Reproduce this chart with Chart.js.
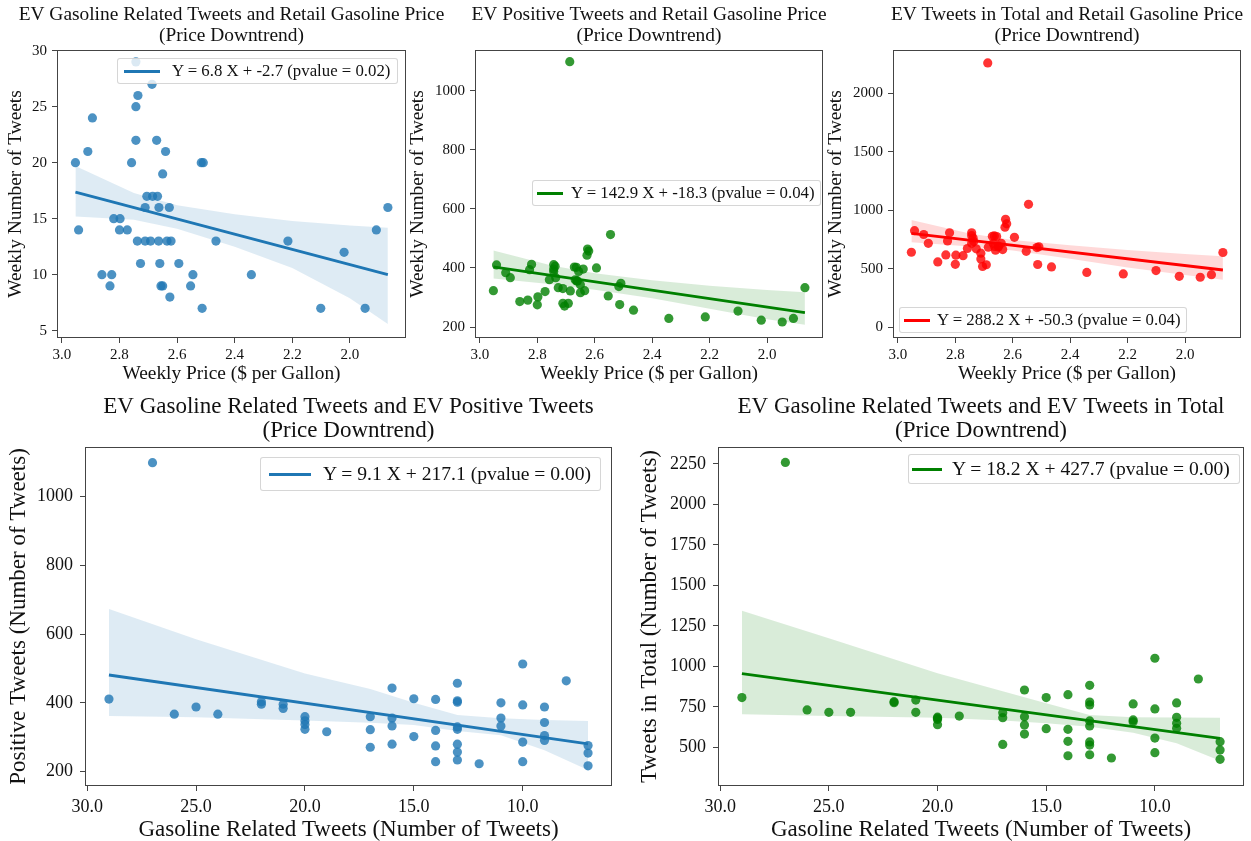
<!DOCTYPE html>
<html>
<head>
<meta charset="utf-8">
<title>EV tweets and retail gasoline price</title>
<script src="https://cdn.jsdelivr.net/npm/chart.js@4.4.1/dist/chart.umd.min.js"></script>
<style>
  html, body { margin: 0; padding: 0; background: #fff; }
  body { position: relative; width: 1251px; height: 841px; overflow: hidden;
         font-family: "Liberation Serif", "Times New Roman", serif; color: #111; }
  canvas { position: absolute; }
  .legend { position: absolute; box-sizing: border-box; display: flex; align-items: center; white-space: nowrap;
            background: rgba(255,255,255,0.8); border: 1px solid rgba(204,204,204,0.8); border-radius: 3px; }
  .legend .swatch { display: inline-block; height: 0; }
</style>
</head>
<body>
<script>
// one entry per week of the price downtrend
var weekPrice = [2.953, 2.942, 2.910, 2.894, 2.861, 2.833, 2.827, 2.820, 2.800, 2.798,
                 2.773, 2.758, 2.743, 2.743, 2.743, 2.738, 2.736, 2.727, 2.711, 2.711,
                 2.705, 2.692, 2.687, 2.685, 2.671, 2.668, 2.664, 2.663, 2.660, 2.656,
                 2.650, 2.650, 2.640, 2.635, 2.627, 2.625, 2.621, 2.594, 2.553, 2.545,
                 2.516, 2.513, 2.509, 2.465, 2.342, 2.215, 2.101, 2.020, 1.947, 1.908, 1.868];
var gasTweets = [20, 14, 21, 24, 10, 9, 10, 15, 14, 15,
                 14, 20, 29, 25, 22, 13, 26, 11, 16, 13,
                 17, 13, 27, 17, 22, 17, 13, 16, 11, 9,
                 9, 19, 21, 13, 16, 8, 13, 11, 9, 10,
                 20, 7, 20, 13, 10, 13, 7, 12, 7, 14, 16];
var positiveTweets = [323, 410, 384, 367, 286, 291, 394, 412, 275, 302,
                      320, 360, 411, 388, 396, 406, 367, 333, 280, 330,
                      271, 280, 1098, 322, 403, 360, 402, 356, 356, 388,
                      343, 316, 396, 323, 443, 464, 457, 400, 305, 513,
                      337, 276, 348, 257, 229, 234, 254, 223, 217, 229, 333];
var totalTweets = [640, 825, 792, 716, 557, 617, 737, 807, 537, 615,
                   611, 672, 807, 716, 782, 762, 731, 669, 582, 632,
                   518, 533, 2260, 683, 776, 714, 780, 689, 658, 774,
                   685, 693, 716, 663, 854, 922, 883, 768, 648, 1050,
                   680, 535, 686, 514, 467, 454, 483, 434, 426, 448, 638];

// regression results shown in the legends (one per panel)
var fitSlope = [6.8, 142.9, 288.2, 9.1, 18.2];
var fitIntercept = [-2.7, -18.3, -50.3, 217.1, 427.7];
var fitPvalue = [0.02, 0.04, 0.04, 0.00, 0.00];

// confidence bands
var bandPriceX = [2.953, 2.75, 2.6, 2.4, 2.2, 2.0, 1.868];
var bandGasUpper = [19.7, 17.3, 16.2, 15.4, 14.8, 14.4, 14.2];
var bandGasLower = [15.2, 14.9, 14.1, 12.5, 10.6, 7.9, 5.6];
var bandPosUpper = [459, 408, 382, 358, 340, 325, 318];
var bandPosLower = [364, 345, 326, 297, 262, 226, 208];
var bandTotalUpper = [915, 800, 745, 700, 660, 625, 605];
var bandTotalLower = [725, 690, 655, 585, 510, 445, 405];
var bandTweetX = [29, 25, 20, 17, 15, 13, 11, 9, 7];
var bandPosByGasUpper = [673, 585, 485, 440, 400, 365, 355, 350, 347];
var bandPosByGasLower = [362, 358, 349, 342, 336, 318, 306, 262, 205];
var bandTotalByGasUpper = [1343, 1174, 957, 846, 772, 700, 685, 684, 683];
var bandTotalByGasLower = [704, 694, 683, 665, 648, 627, 590, 525, 417];

// tick labels
var priceTicks = [3.0, 2.8, 2.6, 2.4, 2.2, 2.0];
var tweetTicks = [30, 25, 20, 15, 10];
var gasTicksY = [5, 10, 15, 20, 25, 30];
var posTicksY = [200, 400, 600, 800, 1000];
var totalTicksY = [0, 500, 1000, 1500, 2000];
var totalTicksY2 = [500, 750, 1000, 1250, 1500, 1750, 2000, 2250];

var SERIF = '"Liberation Serif", "Times New Roman", serif';
var INK = '#111';
var EDGE = '#444';
var BLUE = [31, 119, 180], GREEN = [0, 128, 0], RED = [255, 0, 0];

var small = { title: 19.4, titleLH: 21, titleY: 14.5, label: 19.4, tick: 15, padX: 3, padY: 5, legend: 16.8 };
var large = { title: 23, titleLH: 24.3, titleY: 15, label: 23, tick: 18, padX: 5, padY: 7, legend: 19.6 };

var panels = [
  { xs: weekPrice, ys: gasTweets, bx: bandPriceX, hi: bandGasUpper, lo: bandGasLower, color: BLUE, f: small,
    title: ['EV Gasoline Related Tweets and Retail Gasoline Price', '(Price Downtrend)'],
    xLabel: 'Weekly Price ($ per Gallon)', yLabel: 'Weekly Number of Tweets',
    xTicks: priceTicks, yTicks: gasTicksY, xMin: 1.805, xMax: 3.017, yMin: 4.35, yMax: 30.06, digits: 1,
    box: { left: 0, top: 0, w: 463, h: 390, yW: 57, xH: 52, padT: 50, padR: 57 },
    leg: { left: 117, top: 58, h: 26, padL: 6, padR: 7, swatch: 36, gap: 12, lw: 3 } },
  { xs: weekPrice, ys: positiveTweets, bx: bandPriceX, hi: bandPosUpper, lo: bandPosLower, color: GREEN, f: small,
    title: ['EV Positive Tweets and Retail Gasoline Price', '(Price Downtrend)'],
    xLabel: 'Weekly Price ($ per Gallon)', yLabel: 'Weekly Number of Tweets',
    xTicks: priceTicks, yTicks: posTicksY, xMin: 1.805, xMax: 3.017, yMin: 162.8, yMax: 1137.6, digits: 1,
    box: { left: 402, top: 0, w: 441, h: 390, yW: 73, xH: 52, padT: 50, padR: 20 },
    leg: { left: 532, top: 180, h: 26, padL: 4, padR: 5, swatch: 26, gap: 8, lw: 3 } },
  { xs: weekPrice, ys: totalTweets, bx: bandPriceX, hi: bandTotalUpper, lo: bandTotalLower, color: RED, f: small,
    title: ['EV Tweets in Total and Retail Gasoline Price', '(Price Downtrend)'],
    xLabel: 'Weekly Price ($ per Gallon)', yLabel: 'Weekly Number of Tweets',
    xTicks: priceTicks, yTicks: totalTicksY, xMin: 1.805, xMax: 3.017, yMin: -94, yMax: 2371, digits: 1,
    box: { left: 820, top: 0, w: 431, h: 390, yW: 73, xH: 52, padT: 50, padR: 10 },
    leg: { left: 899, top: 307, h: 26, padL: 4, padR: 5, swatch: 26, gap: 7, lw: 3 } },
  { xs: gasTweets, ys: positiveTweets, bx: bandTweetX, hi: bandPosByGasUpper, lo: bandPosByGasLower, color: BLUE, f: large,
    title: ['EV Gasoline Related Tweets and EV Positive Tweets', '(Price Downtrend)'],
    xLabel: 'Gasoline Related Tweets (Number of Tweets)', yLabel: 'Positive Tweets (Number of Tweets)',
    xTicks: tweetTicks, yTicks: posTicksY, xMin: 5.9, xMax: 30.1, yMin: 158.4, yMax: 1143.6, digits: 1,
    box: { left: 1, top: 392, w: 617, h: 456, yW: 84, xH: 62, padT: 55, padR: 6 },
    leg: { left: 260, top: 457, h: 34, padL: 8, padR: 9, swatch: 42, gap: 12, lw: 3.5 } },
  { xs: gasTweets, ys: totalTweets, bx: bandTweetX, hi: bandTotalByGasUpper, lo: bandTotalByGasLower, color: GREEN, f: large,
    title: ['EV Gasoline Related Tweets and EV Tweets in Total', '(Price Downtrend)'],
    xLabel: 'Gasoline Related Tweets (Number of Tweets)', yLabel: 'Tweets in Total (Number of Tweets)',
    xTicks: tweetTicks, yTicks: totalTicksY2, xMin: 5.9, xMax: 30.1, yMin: 261, yMax: 2355, digits: 1,
    box: { left: 632, top: 392, w: 619, h: 456, yW: 86, xH: 62, padT: 55, padR: 7 },
    leg: { left: 908, top: 454, h: 30, padL: 3, padR: 9, swatch: 30, gap: 10, lw: 3.5 } }
];

function rgba(c, a){ return 'rgba(' + c[0] + ',' + c[1] + ',' + c[2] + ',' + a + ')'; }

function pairUp(xs, ys){
  var pts = [];
  for(var i = 0; i < xs.length; i++) pts.push({ x: xs[i], y: ys[i] });
  return pts;
}

// regression line over the data range, from the legend equation
function fitLine(xs, k){
  var lo = Math.min.apply(null, xs), hi = Math.max.apply(null, xs);
  return [{ x: lo, y: fitSlope[k] * lo + fitIntercept[k] }, { x: hi, y: fitSlope[k] * hi + fitIntercept[k] }];
}

function fitLabel(k){
  return 'Y = ' + fitSlope[k].toFixed(1) + ' X + ' + fitIntercept[k].toFixed(1) +
         ' (pvalue = ' + fitPvalue[k].toFixed(2) + ')';
}

// two-line title centred over the axes box
var panelTitle = {
  id: 'panelTitle',
  afterDraw: function(chart, args, opts){
    var a = chart.chartArea, ctx = chart.ctx;
    ctx.save();
    ctx.fillStyle = INK;
    ctx.font = opts.size + 'px ' + SERIF;
    ctx.textAlign = 'center';
    ctx.textBaseline = 'middle';
    for(var i = 0; i < opts.lines.length; i++){
      ctx.fillText(opts.lines[i], (a.left + a.right) / 2, opts.y + i * opts.lineHeight);
    }
    ctx.restore();
  }
};

// full rectangle round the plot area
var frameBox = {
  id: 'frameBox',
  afterDatasetsDraw: function(chart){
    var a = chart.chartArea, ctx = chart.ctx;
    ctx.save();
    ctx.strokeStyle = EDGE;
    ctx.lineWidth = 1;
    ctx.strokeRect(Math.round(a.left) + 0.5, Math.round(a.top) + 0.5,
                   Math.round(a.right - a.left) - 1, Math.round(a.bottom - a.top) - 1);
    ctx.restore();
  }
};

function tickList(values){
  return function(scale){ scale.ticks = values.map(function(v){ return { value: v }; }); };
}

function buildPanel(p, k){
  var b = p.box, f = p.f;
  var canvas = document.createElement('canvas');
  canvas.width = b.w;
  canvas.height = b.h;
  canvas.style.left = b.left + 'px';
  canvas.style.top = b.top + 'px';
  document.body.appendChild(canvas);

  var bandHi = pairUp(p.bx, p.hi), bandLo = pairUp(p.bx, p.lo);

  new Chart(canvas, {
    type: 'scatter',
    data: {
      datasets: [
        { type: 'line', label: fitLabel(k), data: fitLine(p.xs, k), borderColor: rgba(p.color, 1),
          borderWidth: 2.8, pointRadius: 0, fill: false, tension: 0 },
        { type: 'line', label: 'ci upper', data: bandHi, borderColor: 'rgba(0,0,0,0)', borderWidth: 1,
          pointRadius: 0, fill: '+1', backgroundColor: rgba(p.color, 0.15), tension: 0 },
        { type: 'line', label: 'ci lower', data: bandLo, borderColor: 'rgba(0,0,0,0)', borderWidth: 1,
          pointRadius: 0, fill: false, tension: 0 },
        { type: 'scatter', label: 'weeks', data: pairUp(p.xs, p.ys), backgroundColor: rgba(p.color, 0.8),
          borderWidth: 0, pointRadius: 4.6 }
      ]
    },
    options: {
      responsive: false,
      animation: false,
      layout: { padding: { left: 0, right: b.padR, top: b.padT, bottom: 0 } },
      plugins: {
        legend: { display: false },
        tooltip: { enabled: false },
        panelTitle: { lines: p.title, size: f.title, y: f.titleY, lineHeight: f.titleLH }
      },
      scales: {
        x: {
          type: 'linear', reverse: true, min: p.xMin, max: p.xMax,
          afterFit: function(s){ s.height = b.xH; },
          afterBuildTicks: tickList(p.xTicks),
          ticks: { autoSkip: false, maxRotation: 0, padding: f.padX, color: INK,
                   font: { family: SERIF, size: f.tick },
                   callback: function(v){ return Number(v).toFixed(p.digits); } },
          grid: { drawOnChartArea: false, tickLength: 5, color: EDGE },
          border: { display: false },
          title: { display: true, text: p.xLabel, color: INK, font: { family: SERIF, size: f.label },
                   padding: { top: 4, bottom: 4 } }
        },
        y: {
          type: 'linear', min: p.yMin, max: p.yMax,
          afterFit: function(s){ s.width = b.yW; },
          afterBuildTicks: tickList(p.yTicks),
          ticks: { autoSkip: false, padding: f.padY, color: INK, font: { family: SERIF, size: f.tick },
                   callback: function(v){ return String(v); } },
          grid: { drawOnChartArea: false, tickLength: 5, color: EDGE },
          border: { display: false },
          title: { display: true, text: p.yLabel, color: INK, font: { family: SERIF, size: f.label },
                   padding: { top: 4, bottom: 4 } }
        }
      }
    },
    plugins: [panelTitle, frameBox]
  });

  // legend box like matplotlib's
  var L = p.leg;
  var leg = document.createElement('div');
  leg.className = 'legend';
  leg.style.left = L.left + 'px';
  leg.style.top = L.top + 'px';
  leg.style.height = L.h + 'px';
  leg.style.padding = '0 ' + L.padR + 'px 0 ' + L.padL + 'px';
  leg.style.fontSize = f.legend + 'px';
  var sw = document.createElement('span');
  sw.className = 'swatch';
  sw.style.width = L.swatch + 'px';
  sw.style.borderTop = L.lw + 'px solid ' + rgba(p.color, 1);
  sw.style.marginRight = L.gap + 'px';
  var txt = document.createElement('span');
  txt.textContent = fitLabel(k);
  leg.appendChild(sw);
  leg.appendChild(txt);
  document.body.appendChild(leg);
}

for(var i = 0; i < panels.length; i++){
  buildPanel(panels[i], i);
}
</script>
</body>
</html>
